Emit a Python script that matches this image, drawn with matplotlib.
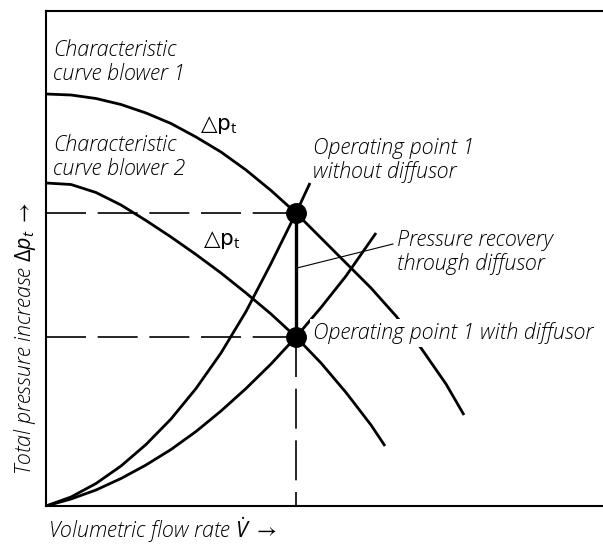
import matplotlib.pyplot as plt

plt.rcParams['font.family'] = ['Open Sans', 'DejaVu Sans']
plt.rcParams['mathtext.fontset'] = 'custom'
plt.rcParams['mathtext.rm'] = 'Open Sans'
plt.rcParams['mathtext.it'] = 'Open Sans:italic'
plt.rcParams['mathtext.fallback'] = 'stix'

# characteristic curves of the two blowers (arbitrary units)
blower1_flow = [0, 0.5, 1.0, 1.5, 2.0, 2.5, 3.0, 3.5, 4.0, 4.5, 5.0, 5.5, 6.0, 6.5, 7.0, 7.5, 8.0, 8.36]
blower1_dp = [8.24, 8.22, 8.15, 8.03, 7.86, 7.65, 7.38, 7.08, 6.72, 6.31, 5.86, 5.36, 4.86,
              4.36, 3.80, 3.16, 2.44, 1.82]

blower2_flow = [0, 0.5, 1.0, 1.5, 2.0, 2.5, 3.0, 3.5, 4.0, 4.5, 5.0, 5.5, 6.0, 6.5, 6.78]
blower2_dp = [6.46, 6.43, 6.27, 6.02, 5.71, 5.38, 5.03, 4.66, 4.26, 3.84, 3.38, 2.86, 2.27,
              1.62, 1.20]

# system curves without / with diffusor
sys1_flow = [0, 0.5, 1.0, 1.5, 2.0, 2.5, 3.0, 3.5, 4.0, 4.5, 5.0, 5.28]
sys1_dp = [0, 0.18, 0.45, 0.80, 1.23, 1.74, 2.35, 3.06, 3.89, 4.85, 5.86, 6.46]

sys2_flow = [0, 0.5, 1.0, 1.5, 2.0, 2.5, 3.0, 3.5, 4.0, 4.5, 5.0, 5.5, 6.0, 6.6]
sys2_dp = [0, 0.14, 0.32, 0.55, 0.82, 1.13, 1.49, 1.90, 2.35, 2.84, 3.38, 3.97, 4.60, 5.46]

# operating points
op_flow = 5.0
op_without = 5.86
op_with = 3.38

fig = plt.figure(figsize=(6.03, 5.45), dpi=100)
ax = fig.add_axes([46 / 603, 39 / 545, 557 / 603, 495 / 545])
ax.set_xlim(0, 11.14)
ax.set_ylim(0, 9.9)
ax.set_xticks([])
ax.set_yticks([])
ax.spines['right'].set_visible(False)
for s in ['left', 'bottom', 'top']:
    ax.spines[s].set_linewidth(1.5)

lw = 2.0
for xs, ys in [(blower1_flow, blower1_dp), (blower2_flow, blower2_dp),
               (sys1_flow, sys1_dp), (sys2_flow, sys2_dp)]:
    ax.plot(xs, ys, color='black', lw=lw, solid_capstyle='butt', solid_joinstyle='round')

dash = (0, (24, 7))
ax.plot([0, op_flow], [op_without, op_without], color='black', lw=1.2, linestyle=dash)
ax.plot([0, op_flow], [op_with, op_with], color='black', lw=1.2, linestyle=dash)
ax.plot([op_flow, op_flow], [op_with, 0], color='black', lw=1.2, linestyle=dash)
ax.plot([op_flow, op_flow], [op_with, op_without], color='black', lw=2.4)
ax.plot([op_flow, op_flow], [op_without, op_with], 'o', color='black', markersize=14)

# leader line to the pressure recovery label
ax.plot([5.02, 6.94], [4.76, 5.24], color='black', lw=0.8)

fs = 15.5
ax.text(0.14, 8.88, 'Characteristic\ncurve blower 1', fontsize=fs, style='italic',
        weight='light', va='center', linespacing=1.17)
ax.text(0.14, 6.98, 'Characteristic\ncurve blower 2', fontsize=fs, style='italic',
        weight='light', va='center', linespacing=1.17)
ax.text(3.08, 7.62, '△p$_\\mathrm{t}$', fontsize=fs, va='center',
        family=['DejaVu Sans'])
ax.text(3.14, 5.32, '△p$_\\mathrm{t}$', fontsize=fs, va='center',
        family=['DejaVu Sans'])
ax.text(5.34, 6.92, 'Operating point 1\nwithout diffusor', fontsize=fs, style='italic',
        weight='light', va='center', linespacing=1.17,
        bbox=dict(facecolor='white', edgecolor='none', pad=1))
ax.text(7.02, 5.08, 'Pressure recovery\nthrough diffusor', fontsize=fs, style='italic',
        weight='light', va='center', linespacing=1.17)
ax.text(5.34, 3.46, 'Operating point 1 with diffusor', fontsize=fs, style='italic',
        weight='light', va='center', zorder=5,
        bbox=dict(facecolor='white', edgecolor='none', pad=2))

fig.text(48 / 603, 1 - 530 / 545, r'Volumetric flow rate $\dot{V}$ $\rightarrow$',
         fontsize=fs, style='italic', weight='light', va='center', ha='left')
fig.text(25 / 603, 1 - 338 / 545, r'Total pressure increase $\Delta p_t$ $\rightarrow$',
         fontsize=fs, style='italic', weight='light', va='center', ha='center', rotation=90)

fig.savefig('out.png', dpi=100)
